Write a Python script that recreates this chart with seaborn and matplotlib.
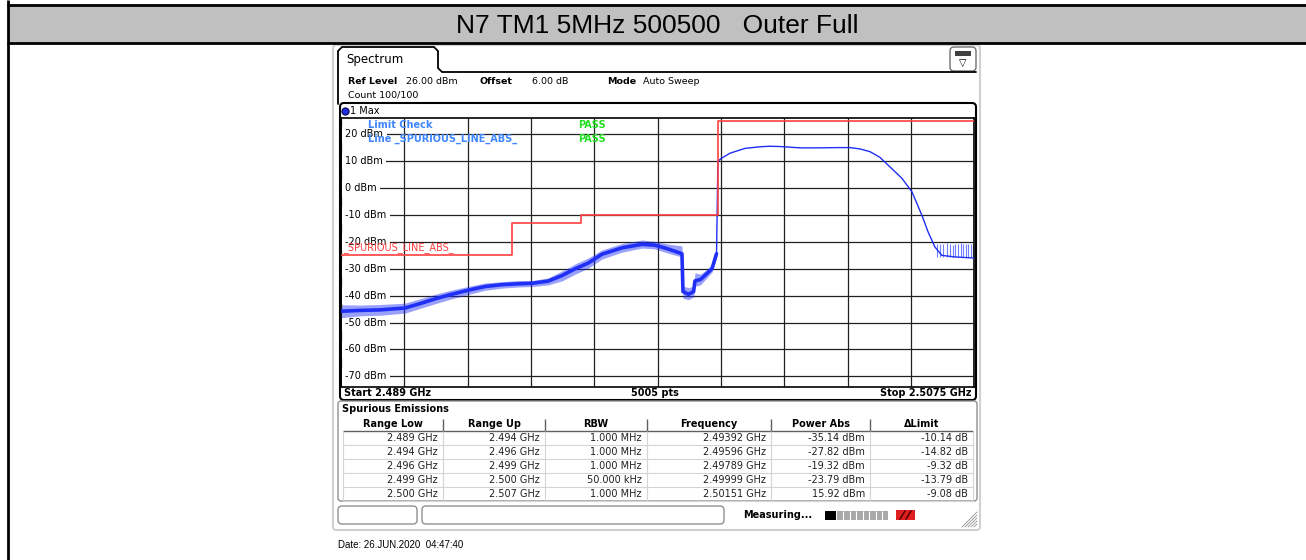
import numpy as np
import matplotlib
matplotlib.use("Agg")
import matplotlib.pyplot as plt
import matplotlib.patches as mpatches
import matplotlib.transforms as mtransforms
import seaborn as sns

# ---- data ----
title = "N7 TM1 5MHz 500500   Outer Full"
f_start, f_stop = 2.489, 2.5075
ref_level, y_bottom = 26, -74
y_ticks = [20, 10, 0, -10, -20, -30, -40, -50, -60, -70]

# max-hold trace (GHz, dBm)
trace_f = [2.48900, 2.48956, 2.49014, 2.49087, 2.49130, 2.49175, 2.49220, 2.49271,
           2.49321, 2.49370, 2.49415, 2.49458, 2.49505, 2.49546, 2.49584, 2.49622,
           2.49662, 2.49721, 2.49779, 2.49817, 2.49855, 2.49896, 2.49899, 2.49915,
           2.49930, 2.49934, 2.49950, 2.49963, 2.49984, 2.49997, 2.50001, 2.50010,
           2.50036, 2.50080, 2.50124, 2.50151, 2.50182, 2.50241, 2.50299, 2.50350,
           2.50387, 2.50416, 2.50445, 2.50474, 2.50498, 2.50539, 2.50568, 2.50597,
           2.50615, 2.50635, 2.50655, 2.50693, 2.50749]
trace_db = [-45.8, -45.5, -45.3, -44.6, -43.0, -41.2, -39.6, -38.0,
            -36.6, -35.9, -35.6, -35.4, -34.6, -32.5, -30.0, -27.9,
            -24.6, -22.2, -20.9, -21.2, -22.6, -24.4, -38.5, -39.5,
            -38.5, -34.5, -34.0, -32.5, -29.9, -24.4, 10.0, 11.0,
            13.0, 14.8, 15.4, 15.6, 15.5, 15.0, 15.0, 15.1,
            15.1, 14.6, 13.6, 11.5, 8.6, 3.6, -1.4, -10.1,
            -16.3, -21.9, -25.0, -25.6, -26.0]

# noise envelope of the out-of-band part (same frequencies as the first trace points)
noise_f = [2.48900, 2.48956, 2.49014, 2.49087, 2.49130, 2.49175, 2.49220, 2.49271,
           2.49321, 2.49370, 2.49415, 2.49458, 2.49505, 2.49546, 2.49584, 2.49622,
           2.49662, 2.49721, 2.49779, 2.49817, 2.49855, 2.49896, 2.49899, 2.49915,
           2.49930, 2.49934, 2.49950, 2.49963, 2.49984, 2.49997]
noise_lo = [-48.2, -47.5, -47.3, -46.5, -44.8, -43.0, -41.3, -39.6,
            -38.0, -37.2, -36.8, -36.6, -36.0, -34.5, -32.0, -29.8,
            -26.4, -23.8, -22.3, -22.6, -24.2, -25.6, -41.0, -41.5,
            -40.5, -36.5, -36.0, -34.2, -31.2, -25.5]
noise_hi = [-43.4, -43.5, -43.3, -42.8, -41.2, -39.5, -38.0, -36.6,
            -35.3, -34.8, -34.4, -34.4, -33.4, -30.8, -28.2, -26.0,
            -23.0, -20.6, -19.3, -19.8, -20.8, -21.5, -36.5, -37.0,
            -36.5, -31.5, -32.0, -30.8, -28.5, -23.3]

# spikes on the upper floor
spike_f = [2.50640, 2.50650, 2.50659, 2.50669, 2.50679, 2.50687, 2.50693,
           2.50703, 2.50711, 2.50718, 2.50726, 2.50733, 2.50740, 2.50745]
spike_top = [-20.8, -20.6, -20.9, -20.5, -20.7, -21.0, -20.6,
             -20.8, -20.5, -20.9, -20.6, -20.8, -20.7, -21.0]
spike_floor = -25.8

# limit line _SPURIOUS_LINE_ABS_
limit_edges = [2.489, 2.494, 2.496, 2.500, 2.5075]
limit_vals = [-25, -13, -10, 25]

# spurious emissions table
range_low = [2.489, 2.494, 2.496, 2.499, 2.500]
range_up = [2.494, 2.496, 2.499, 2.500, 2.507]
rbw = ["1.000 MHz", "1.000 MHz", "1.000 MHz", "50.000 kHz", "1.000 MHz"]
peak_freq = [2.49392, 2.49596, 2.49789, 2.49999, 2.50151]
power_abs = [-35.14, -27.82, -19.32, -23.79, 15.92]
delta_limit = [-10.14, -14.82, -9.32, -13.79, -9.08]
headers = ["Range Low", "Range Up", "RBW", "Frequency", "Power Abs", "\u0394Limit"]

# ---- styling ----
sns.set_style("white")
plt.rcParams["font.family"] = ["DejaVu Sans"]
plt.rcParams["text.color"] = "black"
TRACE = "#1f2ff5"
RED = "#ff4040"
LBLUE = "#3f86ff"
GREEN = "#22dd22"

W, H = 1306, 560
fig = plt.figure(figsize=(W / 100, H / 100), dpi=100)
cv = fig.add_axes([0, 0, 1, 1])
cv.set_xlim(0, W)
cv.set_ylim(H, 0)
cv.axis("off")


def T(x, y, s, host=None, **kw):
    kw.setdefault("va", "center")
    kw.setdefault("fontsize", 7)
    (host or cv).text(x, y, s, transform=cv.transData, **kw)


def box(x0, y0, x1, y1, rs=0, host=None, **kw):
    style = "round,pad=0,rounding_size=%g" % rs if rs else "square,pad=0"
    p = mpatches.FancyBboxPatch((x0, y0), x1 - x0, y1 - y0, boxstyle=style,
                                transform=cv.transData, **kw)
    (host or cv).add_patch(p)


def hline(y, x0, x1, c="black", lw=1, **kw):
    cv.plot([x0, x1], [y, y], color=c, lw=lw, solid_capstyle="butt", **kw)


def vline(x, y0, y1, c="black", lw=1, **kw):
    cv.plot([x, x], [y0, y1], color=c, lw=lw, solid_capstyle="butt", **kw)


# page frame + title banner
box(8, 5, W + 2, 43, facecolor="#c0c0c0", edgecolor="none")
hline(5, 7, W, lw=2)
hline(43, 7, W, lw=2)
vline(7.5, 0, H, lw=2)
T(657, 26, title, fontsize=19, ha="center", family=["Liberation Sans"])

# outer light frame of the instrument window
box(333, 45, 980, 530, rs=3, facecolor="none", edgecolor="#d0d0d0", lw=1.5)

# Spectrum tab
cv.plot([338, 338, 342, 434, 438, 438, 442, 972, 976],
        [104, 51, 47, 47, 51, 68, 72, 72, 72], color="black", lw=1.3)
T(346, 60, "Spectrum", fontsize=8.5)
box(950, 47, 976, 71, rs=4, facecolor="white", edgecolor="#707070", lw=1)
box(955, 51, 971, 56, facecolor="#404040", edgecolor="none")
T(963, 63, "\u25bd", fontsize=7, ha="center")

T(348, 81, "Ref Level", fontweight="bold", fontsize=6.8)
T(406, 81, "26.00 dBm", fontsize=6.8)
T(479, 81, "Offset", fontweight="bold", fontsize=6.8)
T(532, 81, "6.00 dB", fontsize=6.8)
T(607, 81, "Mode", fontweight="bold", fontsize=6.8)
T(643, 81, "Auto Sweep", fontsize=6.8)
T(348, 95, "Count 100/100", fontsize=6.8)

# trace window frame
box(340, 103, 976, 400, rs=4, facecolor="white", edgecolor="black", lw=1.5)
cv.plot([345], [110.5], marker="o", ms=5, color="#2030e0", mec="#101060")
T(350, 110.5, "1 Max")
T(344, 393, "Start 2.489 GHz", fontweight="bold")
T(655, 393, "5005 pts", fontweight="bold", ha="center")
T(972, 393, "Stop 2.5075 GHz", fontweight="bold", ha="right")

# ---- spectrum plot ----
px0, px1, py0, py1 = 341, 974.3, 118.3, 387
ax = fig.add_axes([px0 / W, (H - py1) / H, (px1 - px0) / W, (py1 - py0) / H])
ax.set_xlim(f_start, f_stop)
ax.set_ylim(y_bottom, ref_level)
ax.set_xticks(np.linspace(f_start, f_stop, 11))
ax.set_yticks(y_ticks)
ax.set_axisbelow(True)
ax.grid(True, color="#202020", lw=0.9)
ax.tick_params(length=0, labelbottom=False, labelleft=False)
for s in ax.spines.values():
    s.set_color("black")
    s.set_linewidth(1.2)

ylab_tr = mtransforms.blended_transform_factory(ax.transAxes, ax.transData)
for v in y_ticks:
    ax.text(0.0065, v, "%d dBm" % v, transform=ylab_tr, va="center", fontsize=7,
            zorder=1.5, bbox=dict(facecolor="white", edgecolor="none", pad=2.6))

# limit line
lim_x, lim_y = [], []
for i, v in enumerate(limit_vals):
    lim_x += [limit_edges[i], limit_edges[i + 1]]
    lim_y += [v, v]
sns.lineplot(x=lim_x, y=lim_y, ax=ax, color=RED, lw=1.2, estimator=None, sort=False, zorder=3)

# trace: light noise envelope, dense noisy core, then the clean carrier
n_noisy = len(noise_f)
ax.fill_between(noise_f, noise_lo, noise_hi, color=TRACE, alpha=0.45, lw=0, zorder=2.4)
ax.vlines(spike_f, spike_floor, spike_top, color="#6f7fff", lw=0.8, zorder=2.4)
sns.lineplot(x=trace_f[:n_noisy], y=trace_db[:n_noisy], ax=ax, color=TRACE, lw=2.6,
             estimator=None, sort=False, zorder=2.6)
sns.lineplot(x=trace_f[n_noisy - 1:], y=trace_db[n_noisy - 1:], ax=ax, color=TRACE, lw=1.0,
             estimator=None, sort=False, zorder=2.6)

T(368, 125, "Limit Check", host=ax, color=LBLUE, fontweight="bold", zorder=5)
T(578, 125, "PASS", host=ax, color=GREEN, fontweight="bold", zorder=5)
T(368, 139, "Line _SPURIOUS_LINE_ABS_", host=ax, color=LBLUE, fontweight="bold", zorder=5)
T(578, 139, "PASS", host=ax, color=GREEN, fontweight="bold", zorder=5)
T(343, 248, "_SPURIOUS_LINE_ABS_", host=ax, color=RED, zorder=5)

# ---- spurious emissions table ----
box(338, 401, 977, 501, rs=3, facecolor="white", edgecolor="#909090", lw=1)
T(342, 409, "Spurious Emissions", fontweight="bold")
cols = [343, 443, 545, 647, 771, 870, 973]
hdr_y0, hdr_y1 = 417, 431
row_h = 14
hline(hdr_y1, cols[0], cols[-1], c="#606060", lw=1)
for i, hname in enumerate(headers):
    T((cols[i] + cols[i + 1]) / 2, 424, hname, ha="center", fontweight="bold")
for c in cols[1:-1]:
    vline(c, hdr_y0 + 2, hdr_y1, c="#606060", lw=1)

rows = []
for i in range(len(range_low)):
    rows.append(["%.3f GHz" % range_low[i], "%.3f GHz" % range_up[i], rbw[i],
                 "%.5f GHz" % peak_freq[i], "%.2f dBm" % power_abs[i],
                 "%.2f dB" % delta_limit[i]])
for r, vals in enumerate(rows):
    yc = hdr_y1 + row_h * r + row_h / 2
    hline(hdr_y1 + row_h * (r + 1), cols[0], cols[-1], c="#d4d4d4", lw=0.8)
    for j, s in enumerate(vals):
        T(cols[j + 1] - 5, yc, s, ha="right", color="#202020")
for c in cols:
    vline(c, hdr_y1, hdr_y1 + row_h * len(rows), c="#d4d4d4", lw=0.8)

# ---- status bar ----
box(338, 506, 417, 524, rs=4, facecolor="white", edgecolor="#909090", lw=1)
box(422, 506, 724, 524, rs=4, facecolor="white", edgecolor="#909090", lw=1)
T(743, 515, "Measuring...", fontweight="bold")
box(825, 511, 836, 520, facecolor="black", edgecolor="none")
box(837, 511, 888, 520, facecolor="#a8a8a8", edgecolor="none")
for k in range(7):
    vline(843 + k * 6.5, 511, 520, c="white", lw=0.8)
box(896, 510, 915, 520, facecolor="#e02020", edgecolor="none")
cv.plot([900, 905], [519, 511], color="#600000", lw=1.2)
cv.plot([906, 911], [519, 511], color="#600000", lw=1.2)
for k in range(5):
    cv.plot([962 + k * 3, 977], [527, 512 + k * 3], color="#909090", lw=0.6)

T(338, 545, "Date: 26.JUN.2020  04:47:40", fontsize=7, family=["Liberation Sans"])

fig.savefig("out.png", dpi=100)
